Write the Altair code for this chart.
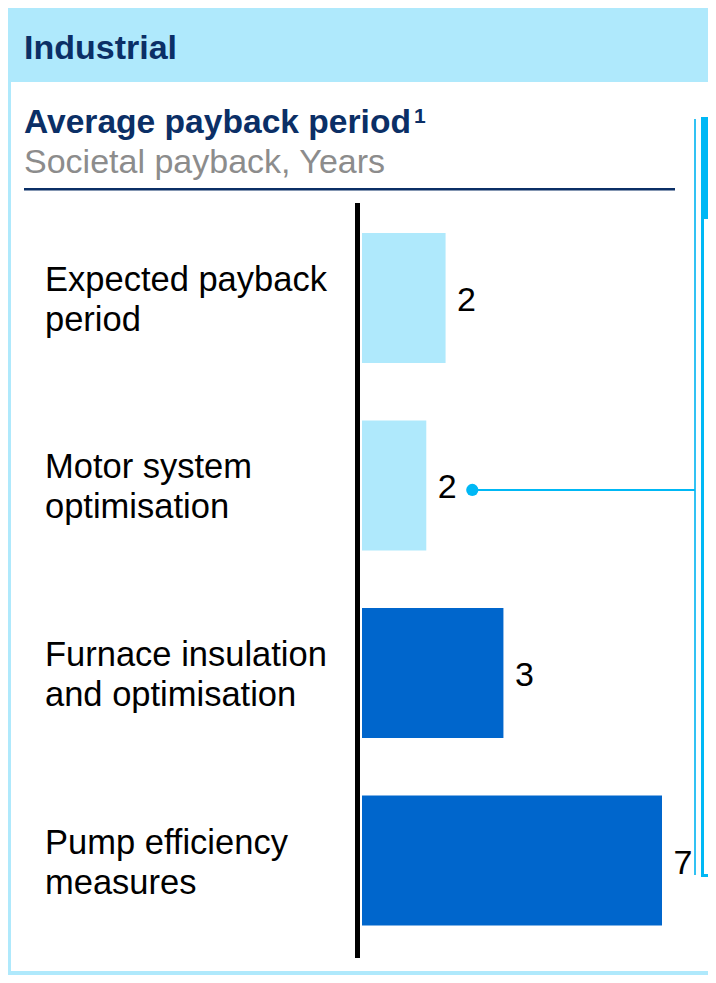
import altair as alt
import pandas as pd

# ---------------- data ----------------
categories = [
    "Expected payback period",
    "Motor system optimisation",
    "Furnace insulation and optimisation",
    "Pump efficiency measures",
]
label_lines = [
    "Expected payback\nperiod",
    "Motor system\noptimisation",
    "Furnace insulation\nand optimisation",
    "Pump efficiency\nmeasures",
]
payback_years = [1.95, 1.5, 3.3, 7.0]
value_labels = ["2", "2", "3", "7"]
bar_group = ["light", "light", "dark", "dark"]
highlight = [False, True, False, False]

header_text = "Industrial"
title_text = "Average payback period"
title_note = "1"
subtitle_text = "Societal payback, Years"

df = pd.DataFrame({
    "category": categories,
    "label": label_lines,
    "value": payback_years,
    "vlabel": value_labels,
    "group": bar_group,
    "highlight": highlight,
})
one = pd.DataFrame({"k": [0]})

# ---------------- style ----------------
W, H = 700, 967
FONT = "Liberation Sans"
NAVY = "#0B2F66"
LIGHT = "#AFE9FC"
DARK = "#0066CC"
CYAN = "#00B8F5"
CYAN_LINE = "#33C2F3"
GRAY = "#8C8C8C"

x_scale = alt.Scale(domain=[0, 7], range=[354, 654])
y_scale = alt.Scale(domain=categories, range=[196.25, 946.25],
                    paddingInner=0.3067, paddingOuter=0.1533)


def rect(x, x2, y, y2, color):
    return alt.Chart(one).mark_rect(color=color, strokeWidth=0).encode(
        x=alt.value(x), x2=alt.value(x2), y=alt.value(y), y2=alt.value(y2))


def label(s, x, y, size, color, bold=False):
    return alt.Chart(one).mark_text(
        text=s, align="left", baseline="alphabetic", font=FONT, fontSize=size,
        fontWeight="bold" if bold else "normal", color=color,
    ).encode(x=alt.value(x), y=alt.value(y))


layers = [
    # frame
    rect(0, W, 0, 74, LIGHT),
    rect(0, 3, 0, H, LIGHT),
    rect(0, W, H - 4, H, LIGHT),
    # titles
    label(header_text, 16, 51, 34, NAVY, True),
    label(title_text, 16, 125, 33.6, NAVY, True),
    label(title_note, 406, 115, 21, NAVY, True),
    label(subtitle_text, 16, 165, 34, GRAY),
    rect(16, 667, 180, 182.5, NAVY),
    # right panel (cut off at the page edge)
    rect(693, W, 109, 211, CYAN),
    rect(693, 696, 109, 869, CYAN),
    rect(693, W, 866, 869, CYAN),
    # connector
    rect(686, 688, 111, 867, CYAN_LINE),
    alt.Chart(one).mark_rule(color=CYAN, strokeWidth=2).encode(
        x=alt.value(466), x2=alt.value(687), y=alt.value(482)),
]

bars = alt.Chart(df).mark_bar().encode(
    x=alt.X("value:Q", scale=x_scale, axis=None),
    y=alt.Y("category:N", scale=y_scale, axis=None, sort=categories),
    color=alt.Color("group:N", scale=alt.Scale(domain=["light", "dark"], range=[LIGHT, DARK]), legend=None),
)

cat_text = alt.Chart(df).mark_text(
    align="left", baseline="middle", font=FONT, fontSize=34.5, lineHeight=40,
    lineBreak="\n", color="black", dy=-17,
).encode(
    x=alt.value(37),
    y=alt.Y("category:N", scale=y_scale, axis=None, sort=categories),
    text="label:N",
)

val_text = alt.Chart(df).mark_text(
    align="left", baseline="middle", font=FONT, fontSize=34, color="black", dx=11.5, dy=3,
).encode(
    x=alt.X("value:Q", scale=x_scale, axis=None),
    y=alt.Y("category:N", scale=y_scale, axis=None, sort=categories),
    text="vlabel:N",
)

dot = alt.Chart(df).transform_filter(alt.datum.highlight).mark_circle(
    color=CYAN, opacity=1, size=150, xOffset=46, yOffset=4.5,
).encode(
    x=alt.X("value:Q", scale=x_scale, axis=None),
    y=alt.Y("category:N", scale=y_scale, axis=None, sort=categories),
)

axis_line = alt.Chart(one).mark_rule(color="black", strokeWidth=5).encode(
    x=alt.value(349.5), y=alt.value(195), y2=alt.value(950))

chart = alt.layer(*layers, bars, axis_line, cat_text, val_text, dot).properties(
    width=W, height=H, padding=0, autosize="none", background="white",
).configure_view(stroke=None)

chart.save("out.html", embed_options={"renderer": "svg", "actions": False})
